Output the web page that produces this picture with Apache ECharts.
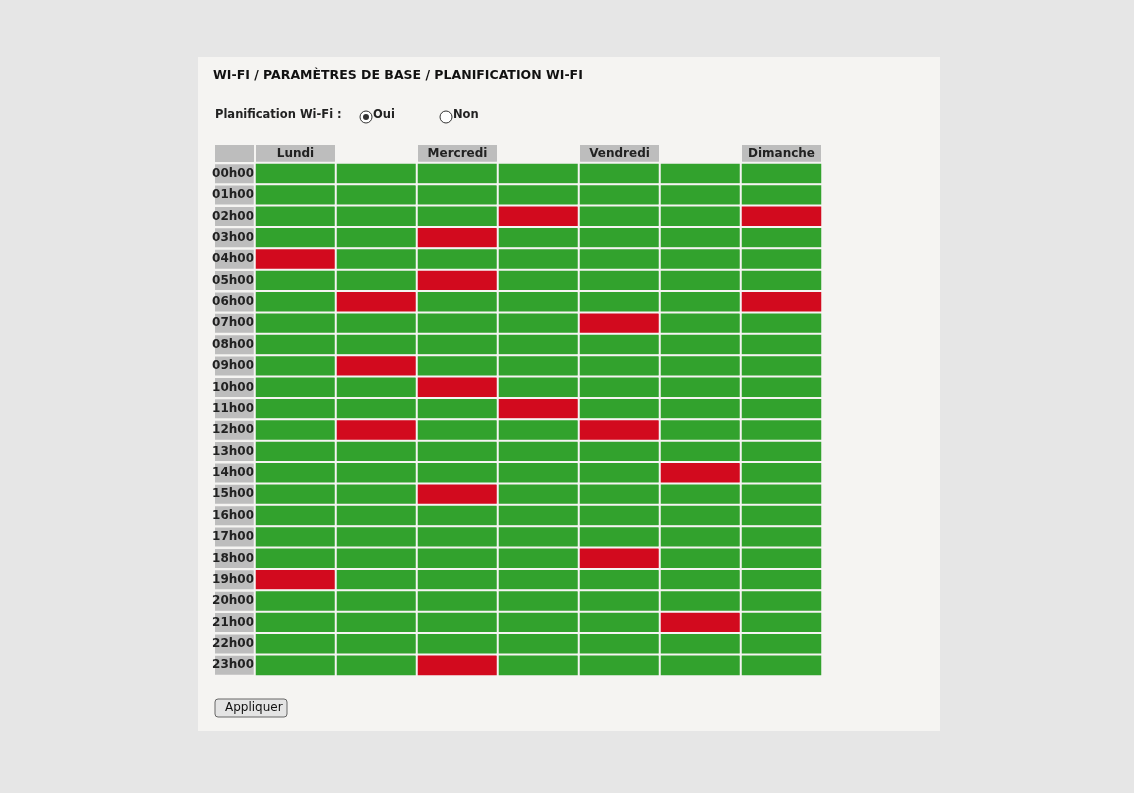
<!DOCTYPE html>
<html>
<head>
<meta charset="utf-8">
<script src="https://cdn.jsdelivr.net/npm/echarts@6/dist/echarts.min.js"></script>
<style>
html,body{margin:0;padding:0;background:#e6e6e6;}
#chart{width:1134px;height:793px;}
</style>
</head>
<body>
<div id="chart"></div>
<script>
// jours et heures
const days = ['Lundi', 'Mardi', 'Mercredi', 'Jeudi', 'Vendredi', 'Samedi', 'Dimanche'];
const hours = ['00h00','01h00','02h00','03h00','04h00','05h00','06h00','07h00','08h00','09h00','10h00','11h00',
               '12h00','13h00','14h00','15h00','16h00','17h00','18h00','19h00','20h00','21h00','22h00','23h00'];
// heures où le Wi-Fi est coupé (index d'heure) par jour
const offLundi = [4, 19];
const offMardi = [6, 9, 12];
const offMercredi = [3, 5, 10, 15, 23];
const offJeudi = [2, 11];
const offVendredi = [7, 12, 18];
const offSamedi = [14, 21];
const offDimanche = [2, 6];

const offByDay = [offLundi, offMardi, offMercredi, offJeudi, offVendredi, offSamedi, offDimanche];
const cells = [];
days.forEach((d, i) => {
    hours.forEach((h, j) => {
        cells.push([i, j, offByDay[i].includes(j) ? 0 : 1]);
    });
});

const font = 'DejaVu Sans';
const myChart = echarts.init(document.getElementById('chart'));
const option = {
    backgroundColor: '#e6e6e6',
    animation: false,
    textStyle: {fontFamily: font},
    graphic: [
        {type: 'rect', z: -10, shape: {x: 198, y: 57, width: 742, height: 674}, style: {fill: '#f5f4f2'}},
        {type: 'text', left: 213, top: 69, style: {text: 'WI-FI / PARAMÈTRES DE BASE / PLANIFICATION WI-FI', font: 'bold 12.5px DejaVu Sans', fill: '#111'}},
        {type: 'text', left: 215, top: 109, style: {text: 'Planification Wi-Fi :', font: 'bold 11.5px DejaVu Sans', fill: '#222'}},
        {type: 'circle', shape: {cx: 366, cy: 117, r: 6}, style: {fill: '#fff', stroke: '#333', lineWidth: 1}},
        {type: 'circle', shape: {cx: 366, cy: 117, r: 3}, style: {fill: '#333'}},
        {type: 'text', left: 373, top: 109, style: {text: 'Oui', font: 'bold 11.5px DejaVu Sans', fill: '#222'}},
        {type: 'circle', shape: {cx: 446, cy: 117, r: 6}, style: {fill: '#fff', stroke: '#333', lineWidth: 1}},
        {type: 'text', left: 453, top: 109, style: {text: 'Non', font: 'bold 11.5px DejaVu Sans', fill: '#222'}},
        {type: 'rect', shape: {x: 215, y: 699, width: 72, height: 18, r: 3}, style: {fill: '#e4e4e4', stroke: '#666', lineWidth: 1}},
        {type: 'text', left: 225, top: 702, style: {text: 'Appliquer', font: '12px DejaVu Sans', fill: '#111'}},
        {type: 'rect', z: -1, shape: {x: 215, y: 145, width: 39, height: 17}, style: {fill: '#bdbdbd'}}
    ],
    grid: {left: 255, right: 312, top: 163, bottom: 117},
    xAxis: {
        type: 'category', data: days, position: 'top',
        axisLine: {show: false}, axisTick: {show: false}, splitLine: {show: false},
        axisLabel: {
            margin: 1, fontWeight: 'bold', fontSize: 12, color: '#222', fontFamily: font,
            backgroundColor: '#bdbdbd', width: 79, height: 17, lineHeight: 17, align: 'center'
        }
    },
    yAxis: {
        type: 'category', data: hours, inverse: true,
        axisLine: {show: false}, axisTick: {show: false}, splitLine: {show: false},
        axisLabel: {
            margin: 1, fontWeight: 'bold', fontSize: 12, color: '#222', fontFamily: font,
            backgroundColor: '#bdbdbd', width: 39, height: 19, lineHeight: 19, align: 'right',
            overflow: 'none'
        }
    },
    visualMap: {
        show: false, type: 'piecewise', dimension: 2,
        pieces: [{value: 0, color: '#d20a1e'}, {value: 1, color: '#32a22d'}]
    },
    series: [{
        type: 'heatmap', data: cells,
        itemStyle: {borderColor: '#f5f4f2', borderWidth: 2}
    }]
};
myChart.setOption(option);
</script>
</body>
</html>
